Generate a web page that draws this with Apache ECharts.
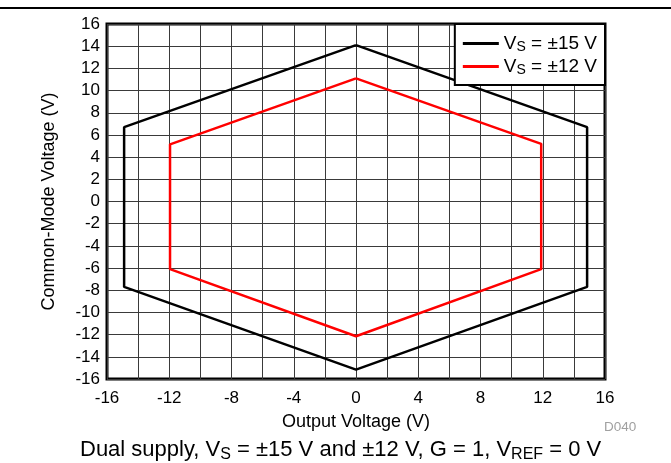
<!DOCTYPE html>
<html><head><meta charset="utf-8">
<script src="https://cdn.jsdelivr.net/npm/echarts@6/dist/echarts.min.js"></script>
<style>html,body{margin:0;padding:0;background:#fff}#c{width:671px;height:463px}</style>
</head><body><div id="c"></div>
<script>
var seriesNames = ['VS15', 'VS12'];
var vs15X = [0, -14.9, -14.9, 0, 14.85, 14.85, 0];
var vs15Y = [14.1, 6.7, -7.7, -15.15, -7.7, 6.7, 14.1];
var vs12X = [0, -11.95, -11.95, 0, 11.9, 11.9, 0];
var vs12Y = [11.1, 5.15, -6.1, -12.15, -6.1, 5.2, 11.1];
var legendText = {VS15: '±15 V', VS12: '±12 V'};

function pairs(xs, ys) { return xs.map(function (x, i) { return [x, ys[i]]; }); }

var chart = echarts.init(document.getElementById('c'), null, {renderer: 'canvas'});
var font = 'Liberation Sans, Arial, sans-serif';
chart.setOption({
  animation: false,
  backgroundColor: '#fff',
  grid: {left: 107, right: 66, top: 24, bottom: 84, show: true, borderColor: '#000', borderWidth: 3, backgroundColor: 'transparent'},
  xAxis: {
    type: 'value', min: -16, max: 16, interval: 2,
    name: 'Output Voltage (V)', nameLocation: 'middle', nameGap: 34,
    nameTextStyle: {fontFamily: font, fontSize: 18, color: '#000'},
    axisLine: {show: false}, axisTick: {show: false},
    axisLabel: {fontFamily: font, fontSize: 17, color: '#000', margin: 11,
      formatter: function (v) { return v % 4 === 0 ? String(v) : ''; }},
    splitLine: {show: true, lineStyle: {color: '#3a3a3a', width: 1}}
  },
  yAxis: {
    type: 'value', min: -16, max: 16, interval: 2,
    name: 'Common-Mode Voltage (V)', nameLocation: 'middle', nameGap: 49,
    nameTextStyle: {fontFamily: font, fontSize: 18, color: '#000'},
    axisLine: {show: false}, axisTick: {show: false},
    axisLabel: {fontFamily: font, fontSize: 17, color: '#000', margin: 7},
    splitLine: {show: true, lineStyle: {color: '#3a3a3a', width: 1}}
  },
  legend: {
    right: 66, top: 24, orient: 'vertical',
    backgroundColor: '#fff', borderColor: '#000', borderWidth: 2,
    padding: [10, 8, 8, 8], itemGap: 3,
    icon: 'rect', itemWidth: 36, itemHeight: 3,
    data: seriesNames,
    formatter: function (n) { return '{a|V}{s|S}{a| = ' + legendText[n] + '}'; },
    textStyle: {
      rich: {
        a: {fontFamily: font, fontSize: 19, color: '#000'},
        s: {fontFamily: font, fontSize: 14, color: '#000', verticalAlign: 'bottom', padding: [7, 0, 0, 0]}
      }
    }
  },
  series: [
    {name: seriesNames[0], type: 'line', data: pairs(vs15X, vs15Y), showSymbol: false, symbol: 'none',
      lineStyle: {color: '#000', width: 2.5}, itemStyle: {color: '#000'}},
    {name: seriesNames[1], type: 'line', data: pairs(vs12X, vs12Y), showSymbol: false, symbol: 'none',
      lineStyle: {color: '#ff0000', width: 2.5}, itemStyle: {color: '#ff0000'}}
  ],
  graphic: [
    {type: 'line', shape: {x1: 0, y1: 8, x2: 671, y2: 8}, style: {stroke: '#000', lineWidth: 2}},
    {type: 'text', left: 604, top: 420, style: {text: 'D040', fontFamily: font, fontSize: 13.5, fill: '#a0a0a0'}},
    {type: 'text', left: 80, top: 439, style: {
      text: '{a|Dual supply, V}{s|S}{a| = ±15 V and ±12 V, G = 1, V}{s|REF}{a| = 0 V}',
      rich: {
        a: {fontFamily: font, fontSize: 22, fill: '#000'},
        s: {fontFamily: font, fontSize: 16, fill: '#000', padding: [9, 0, 0, 0]}
      }
    }}
  ]
});
</script></body></html>
